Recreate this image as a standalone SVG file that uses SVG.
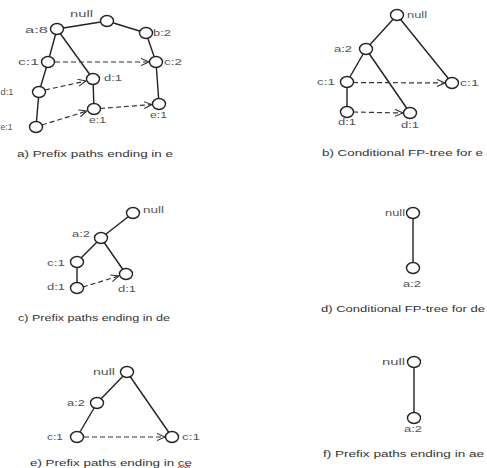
<svg xmlns="http://www.w3.org/2000/svg" width="487" height="468" viewBox="0 0 487 468">
<defs>
<marker id="arr" markerWidth="10" markerHeight="10" refX="8" refY="4" orient="auto" markerUnits="userSpaceOnUse">
<path d="M0,0.5 L8,4 L0,7.5" fill="none" stroke="#333" stroke-width="1.1"/>
</marker>
</defs>
<style>
.n{fill:#fff;stroke:#222;stroke-width:1.4}
.e{stroke:#222;stroke-width:1.4;fill:none}
.d{stroke:#333;stroke-width:1.2;fill:none;stroke-dasharray:5,3;marker-end:url(#arr)}
.l{font-family:"Liberation Sans",Arial,sans-serif;font-size:9px;fill:#555}
.c{font-family:"Liberation Sans",Arial,sans-serif;font-size:9px;fill:#333}
</style>
<rect width="487" height="468" fill="#fff"/>
<g id="connectors">
<line class="e" x1="107" y1="21" x2="57" y2="29"/>
<line class="e" x1="107" y1="21" x2="146" y2="33"/>
<line class="e" x1="57" y1="29" x2="48" y2="62"/>
<line class="e" x1="57" y1="29" x2="93" y2="79"/>
<line class="e" x1="146" y1="33" x2="156" y2="62"/>
<line class="e" x1="48" y1="62" x2="39" y2="92"/>
<line class="e" x1="39" y1="92" x2="36" y2="127"/>
<line class="e" x1="93" y1="79" x2="94" y2="109"/>
<line class="e" x1="156" y1="62" x2="159" y2="104"/>
<line class="d" x1="55" y1="62" x2="149" y2="62"/>
<line class="d" x1="45" y1="90" x2="86" y2="81"/>
<line class="d" x1="42" y1="125" x2="87" y2="111"/>
<line class="d" x1="100" y1="108.5" x2="152" y2="104.5"/>
<line class="e" x1="397" y1="15" x2="366" y2="49"/>
<line class="e" x1="397" y1="15" x2="452" y2="83"/>
<line class="e" x1="366" y1="49" x2="347" y2="82"/>
<line class="e" x1="366" y1="49" x2="410" y2="113"/>
<line class="e" x1="347" y1="82" x2="347" y2="112"/>
<line class="d" x1="353" y1="82.5" x2="445" y2="83"/>
<line class="d" x1="353" y1="112" x2="403" y2="113"/>
<line class="e" x1="133" y1="213" x2="101" y2="238"/>
<line class="e" x1="101" y1="238" x2="77" y2="262"/>
<line class="e" x1="101" y1="238" x2="126" y2="274"/>
<line class="e" x1="77" y1="262" x2="77" y2="288"/>
<line class="d" x1="83" y1="287" x2="119" y2="276"/>
<line class="e" x1="413" y1="213" x2="413" y2="268"/>
<line class="e" x1="127" y1="372" x2="97" y2="403"/>
<line class="e" x1="97" y1="403" x2="77" y2="437"/>
<line class="e" x1="127" y1="372" x2="172" y2="437"/>
<line class="d" x1="84" y1="437" x2="165" y2="437"/>
<line class="e" x1="414" y1="362" x2="414" y2="418"/>
</g>
<g id="panel-a">
<g id="a-null"><ellipse class="n" cx="107" cy="21" rx="6.5" ry="5.5"/><text class="l" x="70" y="17" textLength="23" lengthAdjust="spacingAndGlyphs">null</text></g>
<g id="a-a8"><ellipse class="n" cx="57" cy="29" rx="6.5" ry="5.5"/><text class="l" x="25" y="33" textLength="23" lengthAdjust="spacingAndGlyphs">a:8</text></g>
<g id="a-b2"><ellipse class="n" cx="146" cy="33" rx="6.5" ry="5.5"/><text class="l" x="153" y="36" textLength="18" lengthAdjust="spacingAndGlyphs">b:2</text></g>
<g id="a-c1"><ellipse class="n" cx="48" cy="62" rx="6.5" ry="5.5"/><text class="l" x="18" y="65" textLength="21" lengthAdjust="spacingAndGlyphs">c:1</text></g>
<g id="a-c2"><ellipse class="n" cx="156" cy="62" rx="6.5" ry="5.5"/><text class="l" x="164" y="65" textLength="18" lengthAdjust="spacingAndGlyphs">c:2</text></g>
<g id="a-d1"><ellipse class="n" cx="93" cy="79" rx="6.5" ry="5.5"/><text class="l" x="104" y="81" textLength="18" lengthAdjust="spacingAndGlyphs">d:1</text></g>
<g id="a-d1b"><ellipse class="n" cx="39" cy="92" rx="6.5" ry="5.5"/><text class="l" x="0.5" y="95" textLength="13" lengthAdjust="spacingAndGlyphs">d:1</text></g>
<g id="a-e1"><ellipse class="n" cx="94" cy="109" rx="6.5" ry="5.5"/><text class="l" x="89" y="123" textLength="17" lengthAdjust="spacingAndGlyphs">e:1</text></g>
<g id="a-e1r"><ellipse class="n" cx="159" cy="104" rx="6.5" ry="5.5"/><text class="l" x="150" y="118" textLength="17" lengthAdjust="spacingAndGlyphs">e:1</text></g>
<g id="a-e1b"><ellipse class="n" cx="36" cy="127" rx="6.5" ry="5.5"/><text class="l" x="0.5" y="130" textLength="12" lengthAdjust="spacingAndGlyphs">e:1</text></g>
<text class="c" x="17" y="157" textLength="156" lengthAdjust="spacingAndGlyphs">a) Prefix paths ending in e</text>
</g>
<g id="panel-b">
<g id="b-null"><ellipse class="n" cx="397" cy="15" rx="6.5" ry="5.5"/><text class="l" x="407" y="18" textLength="20" lengthAdjust="spacingAndGlyphs">null</text></g>
<g id="b-a2"><ellipse class="n" cx="366" cy="49" rx="6.5" ry="5.5"/><text class="l" x="334" y="52" textLength="18" lengthAdjust="spacingAndGlyphs">a:2</text></g>
<g id="b-c1"><ellipse class="n" cx="347" cy="82" rx="6.5" ry="5.5"/><text class="l" x="317" y="85" textLength="18" lengthAdjust="spacingAndGlyphs">c:1</text></g>
<g id="b-c1r"><ellipse class="n" cx="452" cy="83" rx="6.5" ry="5.5"/><text class="l" x="460" y="86" textLength="19" lengthAdjust="spacingAndGlyphs">c:1</text></g>
<g id="b-d1"><ellipse class="n" cx="347" cy="112" rx="6.5" ry="5.5"/><text class="l" x="338" y="125" textLength="18" lengthAdjust="spacingAndGlyphs">d:1</text></g>
<g id="b-d1r"><ellipse class="n" cx="410" cy="113" rx="6.5" ry="5.5"/><text class="l" x="401" y="128" textLength="18" lengthAdjust="spacingAndGlyphs">d:1</text></g>
<text class="c" x="322" y="156" textLength="161" lengthAdjust="spacingAndGlyphs">b) Conditional FP-tree for e</text>
</g>
<g id="panel-c">
<g id="c-null"><ellipse class="n" cx="133" cy="213" rx="6.5" ry="5.5"/><text class="l" x="143" y="213" textLength="21" lengthAdjust="spacingAndGlyphs">null</text></g>
<g id="c-a2"><ellipse class="n" cx="101" cy="238" rx="6.5" ry="5.5"/><text class="l" x="72" y="237" textLength="18" lengthAdjust="spacingAndGlyphs">a:2</text></g>
<g id="c-c1"><ellipse class="n" cx="77" cy="262" rx="6.5" ry="5.5"/><text class="l" x="47" y="266" textLength="18" lengthAdjust="spacingAndGlyphs">c:1</text></g>
<g id="c-d1r"><ellipse class="n" cx="126" cy="274" rx="6.5" ry="5.5"/><text class="l" x="118" y="292" textLength="18" lengthAdjust="spacingAndGlyphs">d:1</text></g>
<g id="c-d1"><ellipse class="n" cx="77" cy="288" rx="6.5" ry="5.5"/><text class="l" x="47" y="290" textLength="18" lengthAdjust="spacingAndGlyphs">d:1</text></g>
<text class="c" x="18" y="321" textLength="152" lengthAdjust="spacingAndGlyphs">c) Prefix paths ending in de</text>
</g>
<g id="panel-d">
<g id="d-null"><ellipse class="n" cx="413" cy="213" rx="6.5" ry="5.5"/><text class="l" x="385" y="216" textLength="20" lengthAdjust="spacingAndGlyphs">null</text></g>
<g id="d-a2"><ellipse class="n" cx="413" cy="268" rx="6.5" ry="5.5"/><text class="l" x="403" y="287" textLength="18" lengthAdjust="spacingAndGlyphs">a:2</text></g>
<text class="c" x="321" y="312" textLength="164" lengthAdjust="spacingAndGlyphs">d) Conditional FP-tree for de</text>
</g>
<g id="panel-e">
<g id="e-null"><ellipse class="n" cx="127" cy="372" rx="6.5" ry="5.5"/><text class="l" x="93" y="375" textLength="22" lengthAdjust="spacingAndGlyphs">null</text></g>
<g id="e-a2"><ellipse class="n" cx="97" cy="403" rx="6.5" ry="5.5"/><text class="l" x="67" y="406" textLength="18" lengthAdjust="spacingAndGlyphs">a:2</text></g>
<g id="e-c1"><ellipse class="n" cx="77" cy="437" rx="6.5" ry="5.5"/><text class="l" x="47" y="440" textLength="16" lengthAdjust="spacingAndGlyphs">c:1</text></g>
<g id="e-c1r"><ellipse class="n" cx="172" cy="437" rx="6.5" ry="5.5"/><text class="l" x="182" y="440" textLength="18" lengthAdjust="spacingAndGlyphs">c:1</text></g>
<text class="c" x="30" y="466" textLength="162" lengthAdjust="spacingAndGlyphs">e) Prefix paths ending in ce</text>
<path d="M178,467.5 l2,-1 l2,1 l2,-1 l2,1 l2,-1 l2,1" fill="none" stroke="#e02020" stroke-width="1"/>
</g>
<g id="panel-f">
<g id="f-null"><ellipse class="n" cx="414" cy="362" rx="6.5" ry="5.5"/><text class="l" x="382" y="365" textLength="23" lengthAdjust="spacingAndGlyphs">null</text></g>
<g id="f-a2"><ellipse class="n" cx="414" cy="418" rx="6.5" ry="5.5"/><text class="l" x="404" y="432" textLength="18" lengthAdjust="spacingAndGlyphs">a:2</text></g>
<text class="c" x="323" y="457" textLength="161" lengthAdjust="spacingAndGlyphs">f) Prefix paths ending in ae</text>
</g>
</svg>
